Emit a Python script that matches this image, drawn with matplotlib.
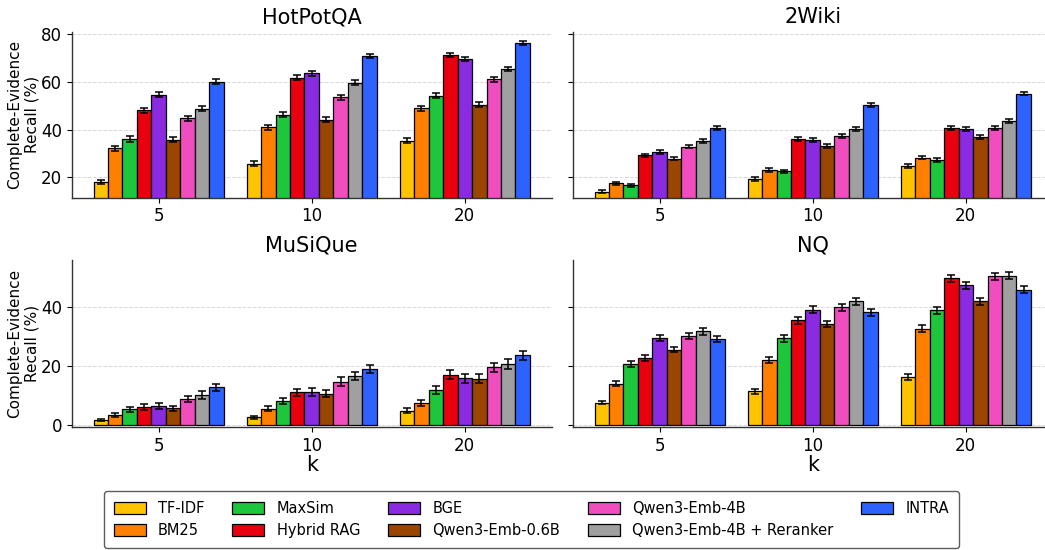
import numpy as np
import matplotlib
matplotlib.use("Agg")
import matplotlib.pyplot as plt

# metodos e cores
methods = ["TF-IDF", "BM25", "MaxSim", "Hybrid RAG", "BGE", "Qwen3-Emb-0.6B",
           "Qwen3-Emb-4B", "Qwen3-Emb-4B + Reranker", "INTRA"]
colors = ["#FFC300", "#FF7F00", "#1DC63B", "#E8000F", "#8A2BE2", "#9A4500",
          "#F04DBF", "#A0A0A0", "#2E62FF"]
k_labels = ["5", "10", "20"]

# linhas = k (5, 10, 20), colunas = metodos
hotpotqa = [[18.2, 32.2, 36.1, 48.1, 54.6, 35.8, 44.7, 48.8, 60.0],
            [25.8, 41.0, 46.3, 61.8, 63.5, 44.2, 53.6, 59.6, 70.8],
            [35.4, 48.9, 54.2, 71.3, 69.6, 50.4, 61.0, 65.4, 76.1]]
hotpotqa_err = [[0.9, 1.0, 1.1, 1.1, 1.1, 1.1, 1.1, 1.1, 1.0],
                [1.0, 1.1, 1.1, 1.1, 1.0, 1.1, 1.1, 1.0, 0.9],
                [1.1, 1.1, 1.1, 0.9, 1.0, 1.1, 1.1, 1.0, 0.8]]

wiki2 = [[14.0, 17.5, 16.7, 29.2, 30.8, 27.9, 32.9, 35.1, 40.7],
         [19.3, 23.2, 22.5, 36.0, 35.8, 33.3, 37.2, 40.4, 50.3],
         [24.7, 28.3, 27.4, 40.8, 40.1, 36.8, 40.8, 43.5, 55.0]]
wiki2_err = [[0.6, 0.7, 0.7, 0.8, 0.8, 0.8, 0.8, 0.8, 0.8],
             [0.7, 0.8, 0.8, 0.8, 0.8, 0.8, 0.8, 0.8, 0.8],
             [0.8, 0.8, 0.8, 0.8, 0.8, 0.8, 0.8, 0.8, 0.7]]

musique = [[1.5, 3.3, 5.2, 6.0, 6.4, 5.6, 8.8, 10.1, 12.7],
           [2.5, 5.5, 8.0, 11.0, 11.1, 10.6, 14.7, 16.6, 18.9],
           [4.8, 7.4, 11.8, 17.0, 15.8, 15.6, 19.5, 20.6, 23.6]]
musique_err = [[0.4, 0.7, 0.9, 1.0, 1.0, 0.9, 1.1, 1.2, 1.2],
               [0.6, 0.9, 1.1, 1.3, 1.3, 1.3, 1.5, 1.5, 1.4],
               [0.9, 1.0, 1.3, 1.5, 1.5, 1.5, 1.6, 1.6, 1.5]]

nq = [[7.5, 14.0, 20.8, 22.8, 29.5, 25.6, 30.2, 31.8, 29.1],
      [11.3, 21.9, 29.4, 35.5, 39.1, 34.3, 40.0, 42.0, 38.3],
      [16.3, 32.7, 39.0, 49.8, 47.5, 42.0, 50.5, 50.8, 45.9]]
nq_err = [[0.6, 0.8, 1.0, 1.0, 1.1, 1.0, 1.1, 1.1, 1.1],
          [0.8, 1.0, 1.1, 1.2, 1.2, 1.1, 1.2, 1.2, 1.2],
          [1.0, 1.1, 1.2, 1.2, 1.2, 1.2, 1.2, 1.2, 1.2]]

plt.rcParams["font.family"] = "DejaVu Sans"

fig = plt.figure(figsize=(10.45, 5.5), dpi=100)

W, H = 1045.0, 550.0
ax_w = 480 / W
pos = {
    "HotPotQA": [71.7 / W, 1 - 197.7 / H, ax_w, 166 / H],
    "2Wiki": [572.7 / W, 1 - 197.7 / H, ax_w, 166 / H],
    "MuSiQue": [71.7 / W, 1 - 427.3 / H, ax_w, 167.3 / H],
    "NQ": [572.7 / W, 1 - 427.3 / H, ax_w, 167.3 / H],
}

n = len(methods)
group_w = 0.85
bar_w = group_w / n
x = np.arange(len(k_labels))


def desenhar(ax, dados, erros, titulo, ylim, yticks, left_labels, bottom_labels):
    dados = np.array(dados)
    erros = np.array(erros)
    ax.set_axisbelow(True)
    ax.grid(axis="y", linestyle="--", color="#d0d0d0", linewidth=0.7, alpha=0.8)
    for j in range(n):
        offs = x - group_w / 2 + bar_w * (j + 0.5)
        ax.bar(offs, dados[:, j], width=bar_w, color=colors[j], edgecolor="black",
               linewidth=0.9, label=methods[j],
               yerr=erros[:, j], capsize=3.2,
               error_kw=dict(ecolor="black", elinewidth=1.1, capthick=1.1))
    ax.set_title(titulo, fontsize=15, pad=6)
    ax.set_xticks(x)
    ax.set_xticklabels(k_labels, fontsize=12)
    ax.set_ylim(*ylim)
    ax.set_yticks(yticks)
    ax.set_xlim(-0.5675, 2.5675)
    ax.tick_params(axis="y", labelsize=12, labelleft=left_labels, length=3.5)
    ax.tick_params(axis="x", length=3.5)
    for s in ["top", "right"]:
        ax.spines[s].set_visible(False)
    for s in ["left", "bottom"]:
        ax.spines[s].set_color("#333333")
        ax.spines[s].set_linewidth(1.0)
    if left_labels:
        ax.set_ylabel("Complete-Evidence\nRecall (%)", fontsize=11, labelpad=1)
    if bottom_labels:
        ax.set_xlabel("k", fontsize=15, labelpad=0)


top_ylim = (11.5, 81.0)
bot_ylim = (-0.9, 56.1)

ax1 = fig.add_axes(pos["HotPotQA"])
desenhar(ax1, hotpotqa, hotpotqa_err, "HotPotQA", top_ylim, [20, 40, 60, 80], True, False)
ax2 = fig.add_axes(pos["2Wiki"])
desenhar(ax2, wiki2, wiki2_err, "2Wiki", top_ylim, [20, 40, 60, 80], False, False)
ax3 = fig.add_axes(pos["MuSiQue"])
desenhar(ax3, musique, musique_err, "MuSiQue", bot_ylim, [0, 20, 40], True, True)
ax4 = fig.add_axes(pos["NQ"])
desenhar(ax4, nq, nq_err, "NQ", bot_ylim, [0, 20, 40], False, True)

handles, labels = ax1.get_legend_handles_labels()
leg = fig.legend(handles, labels, loc="center", ncol=5,
                 bbox_to_anchor=(531.5 / W, 1 - 519.5 / H),
                 fontsize=10.5, frameon=True, fancybox=True,
                 columnspacing=1.9, handlelength=2.2, handleheight=0.95,
                 handletextpad=0.85, borderpad=0.65, labelspacing=0.5)
leg.get_frame().set_edgecolor("#333333")
leg.get_frame().set_linewidth(1.0)

fig.savefig("out.png", dpi=100)
plt.close(fig)
